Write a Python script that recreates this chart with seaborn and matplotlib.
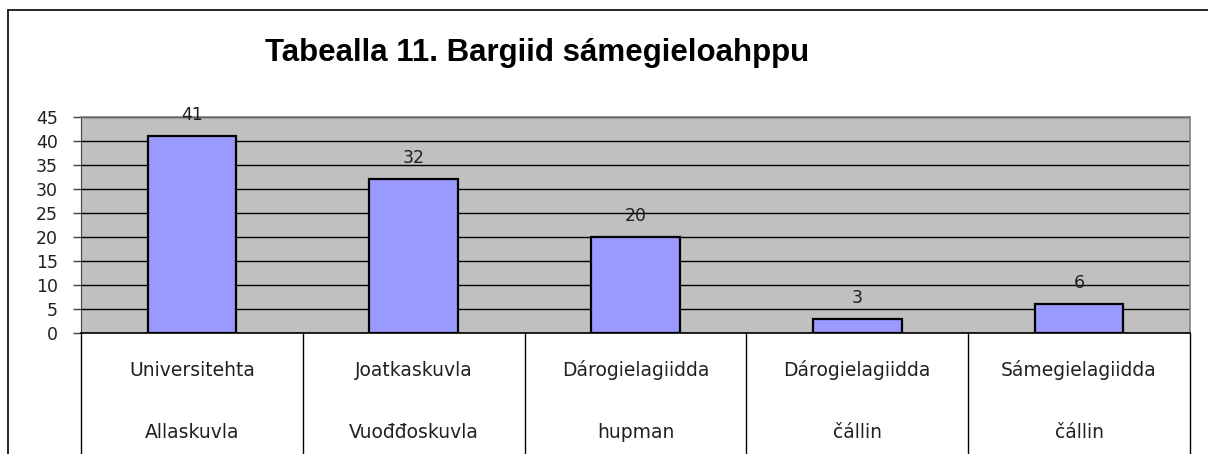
import matplotlib
matplotlib.use("Agg")
import matplotlib.pyplot as plt
import matplotlib.transforms as mtransforms
from matplotlib.lines import Line2D
import seaborn as sns
import pandas as pd

# data
line1 = ["Universitehta", "Joatkaskuvla", "Dárogielagiidda", "Dárogielagiidda", "Sámegielagiidda"]
line2 = ["Allaskuvla", "Vuođđoskuvla", "hupman", "čállin", "čállin"]
values = [41, 32, 20, 3, 6]
title = "Tabealla 11. Bargiid sámegieloahppu"

df = pd.DataFrame({"cat": [a + "\n" + b for a, b in zip(line1, line2)], "val": values})

sns.set_style("white")
plt.rcParams["font.family"] = ["DejaVu Sans"]

W, H = 1208, 454
fig = plt.figure(figsize=(W / 100, H / 100), dpi=100)

# outer chart frame (left and top edge visible)
fig.add_artist(Line2D([8 / W, 8 / W], [0, 1 - 10 / H], color="black", lw=1.2, transform=fig.transFigure))
fig.add_artist(Line2D([8 / W, 1], [1 - 10 / H, 1 - 10 / H], color="black", lw=1.2, transform=fig.transFigure))

x0, x1, ytop, ybot = 81, 1190, 117, 333
ax = fig.add_axes([x0 / W, (H - ybot) / H, (x1 - x0) / W, (ybot - ytop) / H])
ax.set_facecolor("#C0C0C0")

sns.barplot(data=df, x="cat", y="val", color="#9999FF", saturation=1, width=0.4,
            edgecolor="black", linewidth=1.6, ax=ax, zorder=3)

ax.set_ylim(0, 45)
ax.set_xlim(-0.5, len(values) - 0.5)
ax.set_yticks(range(0, 46, 5))
ax.yaxis.grid(True, color="black", lw=1.0, zorder=0)
ax.set_axisbelow(True)
ax.tick_params(axis="y", length=5.5, width=1, color="#404040", labelsize=12.5,
               labelcolor="#202020", pad=11, left=True)
ax.set_xticks([])
ax.set_xlabel("")
ax.set_ylabel("")
for s in ["top", "right"]:
    ax.spines[s].set_color("#808080")
    ax.spines[s].set_linewidth(1.2)
ax.spines["left"].set_color("#404040")
ax.spines["bottom"].set_color("black")
ax.spines["bottom"].set_linewidth(1.2)

# value labels
for i, v in enumerate(values):
    ax.annotate(str(v), (i, v), xytext=(0, 11.5), textcoords="offset points",
                ha="center", va="baseline", fontsize=12.5, color="#202020", zorder=4)

# category table below the plot
trans = mtransforms.blended_transform_factory(ax.transData, ax.transAxes)
for b in [k - 0.5 for k in range(len(values) + 1)]:
    ax.plot([b, b], [0, -1], color="black", lw=1, transform=trans, clip_on=False)
h = ybot - ytop
for i, (a, b) in enumerate(zip(line1, line2)):
    ax.text(i, -(370 - ybot) / h, a, transform=trans, ha="center", va="center", fontsize=13.5, color="#202020")
    ax.text(i, -(433 - ybot) / h, b, transform=trans, ha="center", va="center", fontsize=13.5, color="#202020")

fig.text(537 / W, 1 - 61 / H, title, ha="center", va="baseline", fontsize=22.5, color="black",
         fontweight="bold", family=["Liberation Sans", "DejaVu Sans"])

fig.savefig("out.png", dpi=100)
